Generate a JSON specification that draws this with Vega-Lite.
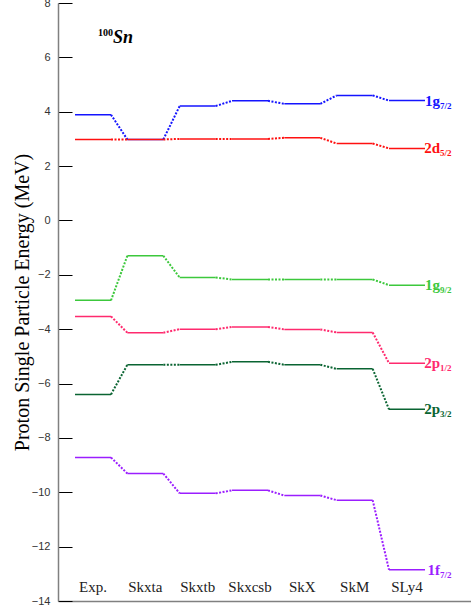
{
  "$schema": "https://vega.github.io/schema/vega-lite/v6.json",
  "width": 413,
  "height": 598,
  "autosize": {"type": "none"},
  "padding": {"left": 58, "top": 3, "right": 0, "bottom": 6},
  "config": {"view": {"stroke": null}},
  "data": {
    "values": [
      {"orb": "1g7/2", "n": "1g", "j": "7/2", "model": "Exp.", "i": 0, "E": 3.89},
      {"orb": "1g7/2", "n": "1g", "j": "7/2", "model": "Skxta", "i": 1, "E": 2.98},
      {"orb": "1g7/2", "n": "1g", "j": "7/2", "model": "Skxtb", "i": 2, "E": 4.21},
      {"orb": "1g7/2", "n": "1g", "j": "7/2", "model": "Skxcsb", "i": 3, "E": 4.40},
      {"orb": "1g7/2", "n": "1g", "j": "7/2", "model": "SkX", "i": 4, "E": 4.29},
      {"orb": "1g7/2", "n": "1g", "j": "7/2", "model": "SkM", "i": 5, "E": 4.60},
      {"orb": "1g7/2", "n": "1g", "j": "7/2", "model": "SLy4", "i": 6, "E": 4.41},
      {"orb": "2d5/2", "n": "2d", "j": "5/2", "model": "Exp.", "i": 0, "E": 2.98},
      {"orb": "2d5/2", "n": "2d", "j": "5/2", "model": "Skxta", "i": 1, "E": 2.98},
      {"orb": "2d5/2", "n": "2d", "j": "5/2", "model": "Skxtb", "i": 2, "E": 3.00},
      {"orb": "2d5/2", "n": "2d", "j": "5/2", "model": "Skxcsb", "i": 3, "E": 3.00},
      {"orb": "2d5/2", "n": "2d", "j": "5/2", "model": "SkX", "i": 4, "E": 3.04},
      {"orb": "2d5/2", "n": "2d", "j": "5/2", "model": "SkM", "i": 5, "E": 2.83},
      {"orb": "2d5/2", "n": "2d", "j": "5/2", "model": "SLy4", "i": 6, "E": 2.65},
      {"orb": "1g9/2", "n": "1g", "j": "9/2", "model": "Exp.", "i": 0, "E": -2.94},
      {"orb": "1g9/2", "n": "1g", "j": "9/2", "model": "Skxta", "i": 1, "E": -1.30},
      {"orb": "1g9/2", "n": "1g", "j": "9/2", "model": "Skxtb", "i": 2, "E": -2.10},
      {"orb": "1g9/2", "n": "1g", "j": "9/2", "model": "Skxcsb", "i": 3, "E": -2.17},
      {"orb": "1g9/2", "n": "1g", "j": "9/2", "model": "SkX", "i": 4, "E": -2.17},
      {"orb": "1g9/2", "n": "1g", "j": "9/2", "model": "SkM", "i": 5, "E": -2.17},
      {"orb": "1g9/2", "n": "1g", "j": "9/2", "model": "SLy4", "i": 6, "E": -2.38},
      {"orb": "2p1/2", "n": "2p", "j": "1/2", "model": "Exp.", "i": 0, "E": -3.53},
      {"orb": "2p1/2", "n": "2p", "j": "1/2", "model": "Skxta", "i": 1, "E": -4.13},
      {"orb": "2p1/2", "n": "2p", "j": "1/2", "model": "Skxtb", "i": 2, "E": -4.00},
      {"orb": "2p1/2", "n": "2p", "j": "1/2", "model": "Skxcsb", "i": 3, "E": -3.92},
      {"orb": "2p1/2", "n": "2p", "j": "1/2", "model": "SkX", "i": 4, "E": -4.01},
      {"orb": "2p1/2", "n": "2p", "j": "1/2", "model": "SkM", "i": 5, "E": -4.12},
      {"orb": "2p1/2", "n": "2p", "j": "1/2", "model": "SLy4", "i": 6, "E": -5.25},
      {"orb": "2p3/2", "n": "2p", "j": "3/2", "model": "Exp.", "i": 0, "E": -6.40},
      {"orb": "2p3/2", "n": "2p", "j": "3/2", "model": "Skxta", "i": 1, "E": -5.31},
      {"orb": "2p3/2", "n": "2p", "j": "3/2", "model": "Skxtb", "i": 2, "E": -5.31},
      {"orb": "2p3/2", "n": "2p", "j": "3/2", "model": "Skxcsb", "i": 3, "E": -5.20},
      {"orb": "2p3/2", "n": "2p", "j": "3/2", "model": "SkX", "i": 4, "E": -5.31},
      {"orb": "2p3/2", "n": "2p", "j": "3/2", "model": "SkM", "i": 5, "E": -5.46},
      {"orb": "2p3/2", "n": "2p", "j": "3/2", "model": "SLy4", "i": 6, "E": -6.95},
      {"orb": "1f7/2", "n": "1f", "j": "7/2", "model": "Exp.", "i": 0, "E": -8.72},
      {"orb": "1f7/2", "n": "1f", "j": "7/2", "model": "Skxta", "i": 1, "E": -9.31},
      {"orb": "1f7/2", "n": "1f", "j": "7/2", "model": "Skxtb", "i": 2, "E": -10.04},
      {"orb": "1f7/2", "n": "1f", "j": "7/2", "model": "Skxcsb", "i": 3, "E": -9.93},
      {"orb": "1f7/2", "n": "1f", "j": "7/2", "model": "SkX", "i": 4, "E": -10.12},
      {"orb": "1f7/2", "n": "1f", "j": "7/2", "model": "SkM", "i": 5, "E": -10.29},
      {"orb": "1f7/2", "n": "1f", "j": "7/2", "model": "SLy4", "i": 6, "E": -12.85}
    ]
  },
  "layer": [
    {
      "mark": {"type": "rule", "xOffset": -18, "x2Offset": 18, "strokeWidth": 1.5},
      "encoding": {
        "x": {
          "field": "i", "type": "quantitative",
          "scale": {"domain": [-0.669, 7.223], "nice": false, "zero": false},
          "axis": {"title": null, "labels": false, "ticks": false, "grid": false, "domain": true, "domainColor": "#808080", "domainWidth": 1.5}
        },
        "x2": {"field": "i"},
        "y": {
          "field": "E", "type": "quantitative",
          "scale": {"domain": [-14, 8], "nice": false, "zero": false},
          "axis": {
            "title": "Proton Single Particle Energy (MeV)",
            "titleFont": "Liberation Serif", "titleFontSize": 20, "titleFontWeight": "normal", "titleColor": "#000000", "titlePadding": -1,
            "values": [-14, -13, -12, -11, -10, -9, -8, -7, -6, -5, -4, -3, -2, -1, 0, 1, 2, 3, 4, 5, 6, 7, 8],
            "labelExpr": "datum.value % 2 == 0 ? datum.label : ''",
            "labelFont": "Liberation Sans", "labelFontSize": 11, "labelColor": "#333333",
            "labelPadding": 22,
            "grid": false,
            "domainColor": "#808080", "domainWidth": 1.5,
            "tickColor": "#000000", "tickWidth": 1,
            "tickSize": {"condition": {"test": "datum.value % 2 == 0", "value": -14}, "value": -7}
          }
        },
        "color": {
          "field": "orb", "type": "nominal",
          "scale": {"domain": ["1g7/2", "2d5/2", "1g9/2", "2p1/2", "2p3/2", "1f7/2"], "range": ["#1414ff", "#ff1010", "#3cc83c", "#ff2a6e", "#0a6432", "#9b1eff"]},
          "legend": null
        }
      }
    },
    {
      "transform": [
        {"window": [{"op": "lead", "field": "E", "as": "E2"}, {"op": "lead", "field": "i", "as": "i2"}], "groupby": ["orb"], "sort": [{"field": "i", "order": "ascending"}], "frame": [null, null]},
        {"filter": "datum.i2 != null"}
      ],
      "mark": {"type": "rule", "xOffset": 18, "x2Offset": -18, "strokeWidth": 2, "strokeDash": [2, 1.5]},
      "encoding": {
        "x": {"field": "i", "type": "quantitative"},
        "x2": {"field": "i2"},
        "y": {"field": "E", "type": "quantitative"},
        "y2": {"field": "E2"},
        "color": {"field": "orb", "type": "nominal", "legend": null}
      }
    },
    {
      "transform": [{"filter": "datum.orb == '1g7/2'"}],
      "mark": {"type": "text", "font": "Liberation Serif", "fontSize": 15, "color": "#222222", "baseline": "middle", "align": "center"},
      "encoding": {
        "x": {"field": "i", "type": "quantitative"},
        "y": {"datum": -13.5, "type": "quantitative"},
        "text": {"field": "model"}
      }
    },
    {
      "transform": [{"filter": "datum.i == 6"}],
      "mark": {"type": "text", "font": "Liberation Serif", "fontSize": 15, "fontWeight": "bold", "baseline": "middle", "align": "right", "dx": 33},
      "encoding": {
        "x": {"field": "i", "type": "quantitative"},
        "y": {"field": "E", "type": "quantitative"},
        "text": {"field": "n"},
        "color": {"field": "orb", "type": "nominal", "legend": null}
      }
    },
    {
      "transform": [{"filter": "datum.i == 6"}],
      "mark": {"type": "text", "font": "Liberation Serif", "fontSize": 9, "fontWeight": "bold", "baseline": "middle", "align": "left", "dx": 33, "dy": 5},
      "encoding": {
        "x": {"field": "i", "type": "quantitative"},
        "y": {"field": "E", "type": "quantitative"},
        "text": {"field": "j"},
        "color": {"field": "orb", "type": "nominal", "legend": null}
      }
    },
    {
      "data": {"values": [{"nuc": "Sn", "A": "100"}]},
      "mark": {"type": "text", "font": "Liberation Serif", "fontSize": 18, "fontWeight": "bold", "fontStyle": "italic", "baseline": "middle", "align": "left", "color": "#000000"},
      "encoding": {
        "x": {"datum": 0.38, "type": "quantitative"},
        "y": {"datum": 6.7, "type": "quantitative"},
        "text": {"field": "nuc"}
      }
    },
    {
      "data": {"values": [{"nuc": "Sn", "A": "100"}]},
      "mark": {"type": "text", "font": "Liberation Serif", "fontSize": 10, "fontWeight": "bold", "baseline": "middle", "align": "right", "color": "#000000"},
      "encoding": {
        "x": {"datum": 0.38, "type": "quantitative"},
        "y": {"datum": 6.9, "type": "quantitative"},
        "text": {"field": "A"}
      }
    }
  ]
}
